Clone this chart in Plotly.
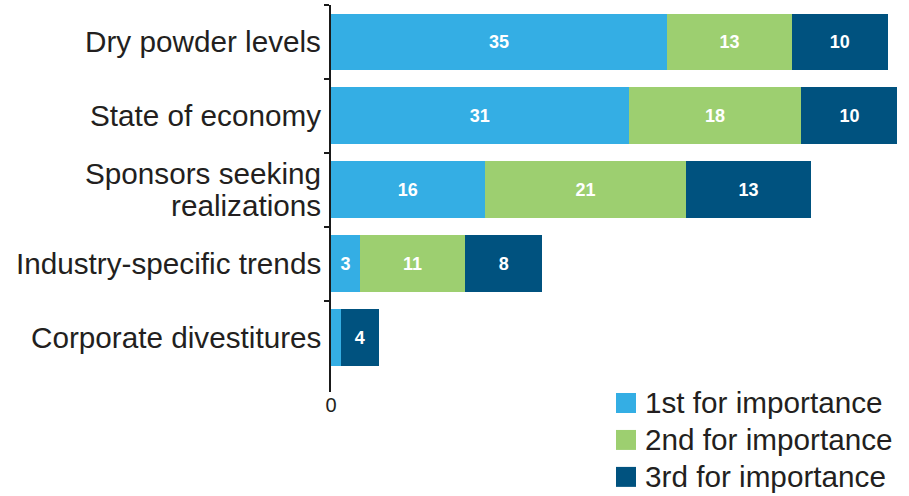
import plotly.graph_objects as go

# Factors driving deal activity, ranked by respondents
categories = [
    "Dry powder levels",
    "State of economy",
    "Sponsors seeking\nrealizations",
    "Industry-specific trends",
    "Corporate divestitures",
]
first_importance = [35, 31, 16, 3, 1]
second_importance = [13, 18, 21, 11, 0]
third_importance = [10, 10, 13, 8, 4]

series_names = ["1st for importance", "2nd for importance", "3rd for importance"]
series_colors = ["#34AEE4", "#9DCF70", "#00527F"]
x_tick_values = [0]
x_tick_labels = ["0"]

FONT = "Liberation Sans, Arial, Helvetica, sans-serif"
TEXT_COLOR = "#231F20"
LABEL_SIZE = 29.7

W, H = 909, 496
M_LEFT, M_RIGHT, M_TOP, M_BOTTOM = 331, 2, 4.5, 104
PLOT_W = W - M_LEFT - M_RIGHT
PLOT_H = H - M_TOP - M_BOTTOM

ypos = list(range(len(categories)))


def label_texts(values):
    # Segments too thin to hold a number stay unlabeled
    return [str(v) if v >= 2 else "" for v in values]


fig = go.Figure()
for name, color, values in zip(
    series_names, series_colors, [first_importance, second_importance, third_importance]
):
    fig.add_trace(
        go.Bar(
            y=ypos,
            x=values,
            name=name,
            orientation="h",
            marker=dict(color=color, line=dict(width=0)),
            text=label_texts(values),
            textposition="inside",
            insidetextanchor="middle",
            textangle=0,
            insidetextfont=dict(family=FONT, size=18, color="white", weight="bold"),
            showlegend=False,
            hoverinfo="skip",
        )
    )

annotations = []
# Category labels, right-aligned against the axis
for i, cat in enumerate(categories):
    lines = cat.split("\n")
    n = len(lines)
    for j, line in enumerate(lines):
        annotations.append(
            dict(
                text=line,
                xref="paper",
                x=0,
                xanchor="right",
                xshift=-8,
                yref="y",
                y=i,
                yanchor="middle",
                yshift=(-(j - (n - 1) / 2) * 32) if n > 1 else 0,
                showarrow=False,
                font=dict(family=FONT, size=LABEL_SIZE, color=TEXT_COLOR),
            )
        )


def px_x(px):
    return (px - M_LEFT) / PLOT_W


def px_y(py):
    return (H - M_BOTTOM - py) / PLOT_H


# Legend drawn as colour swatches with labels
shapes = []
legend_left, swatch = 616, 20
legend_centers = [403, 440, 477]
for name, color, cy in zip(series_names, series_colors, legend_centers):
    shapes.append(
        dict(
            type="rect",
            xref="paper",
            yref="paper",
            x0=px_x(legend_left),
            x1=px_x(legend_left + swatch),
            y0=px_y(cy - swatch / 2),
            y1=px_y(cy + swatch / 2),
            fillcolor=color,
            line=dict(width=0),
            layer="above",
        )
    )
    annotations.append(
        dict(
            text=name,
            xref="paper",
            x=px_x(legend_left + swatch + 7),
            xanchor="left",
            yref="paper",
            y=px_y(cy),
            yanchor="middle",
            showarrow=False,
            font=dict(family=FONT, size=LABEL_SIZE, color=TEXT_COLOR),
        )
    )

fig.update_layout(
    barmode="stack",
    bargap=0.23,
    width=W,
    height=H,
    margin=dict(l=M_LEFT, r=M_RIGHT, t=M_TOP, b=M_BOTTOM, pad=0),
    paper_bgcolor="white",
    plot_bgcolor="white",
    font=dict(family=FONT, color=TEXT_COLOR),
    annotations=annotations,
    shapes=shapes,
    uniformtext=dict(minsize=18, mode="show"),
)

fig.update_xaxes(
    range=[0, 60],
    tickvals=x_tick_values,
    ticktext=x_tick_labels,
    showgrid=False,
    zeroline=False,
    showline=False,
    ticks="",
    tickfont=dict(family=FONT, size=20, color=TEXT_COLOR),
    ticklabelstandoff=-1,
)

# Ticks sit on the boundaries between categories; the axis line runs a bit past the last bar
fig.update_yaxes(
    type="linear",
    range=[len(categories) - 0.5 + 0.236, -0.5],
    tickvals=[i - 0.5 for i in range(len(categories))],
    showticklabels=False,
    ticks="outside",
    ticklen=5,
    tickwidth=1.5,
    tickcolor="#1A1A1A",
    showline=True,
    linecolor="#1A1A1A",
    linewidth=1.5,
    showgrid=False,
    zeroline=False,
)

fig.write_html("out.html")
